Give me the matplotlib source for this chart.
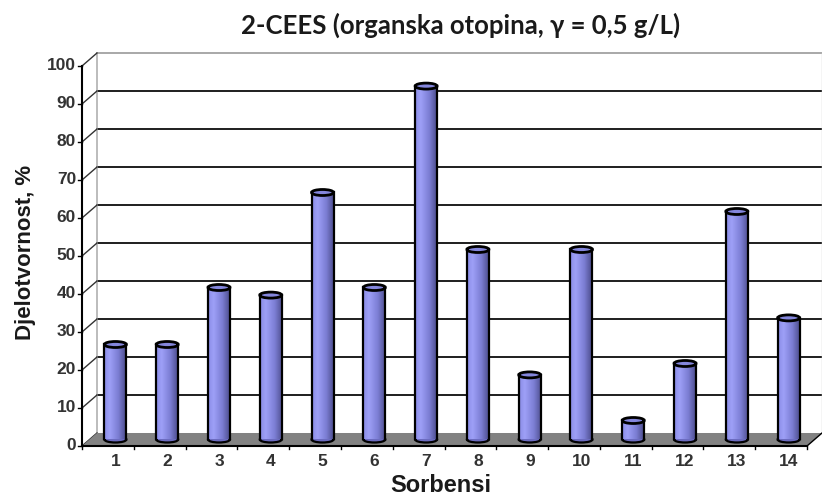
import numpy as np
import matplotlib.pyplot as plt
from matplotlib.colors import LinearSegmentedColormap
from matplotlib.patches import Ellipse, Polygon

sorbensi = [str(i) for i in range(1, 15)]
djelotvornost = [25, 25, 40, 38, 65, 40, 93, 50, 17, 50, 5, 20, 60, 32]
y_ticks = list(range(0, 101, 10))

fig = plt.figure(figsize=(8.22, 4.97), dpi=100)
ax_pos = [0.1089, 0.1157, 0.882, 0.7646]
ax = fig.add_axes(ax_pos)
ax.axis('off')

n = len(sorbensi)
xs = np.arange(1, n + 1)

# pixels per data unit, used to turn the 3-D depth into data offsets
px_x = ax_pos[2] * 822 / n
px_y = ax_pos[3] * 497 / 100
dx = 7.5 / px_x
dy = 6.5 / px_y
x0, x1 = 0.5, n + 0.5

# back wall
for v in y_ticks[1:]:
    col = '#a8a8a8' if v == 100 else '#1e1e1e'
    ax.plot([x0 + dx, x1 + dx], [v + dy, v + dy], color=col, lw=1.4, zorder=1, clip_on=False)
ax.plot([x0 + dx, x0 + dx], [dy, 100 + dy], color='#b0b0b0', lw=1.2, zorder=1, clip_on=False)
ax.plot([x1 + dx, x1 + dx], [dy, 100 + dy], color='#d0d0d0', lw=1.0, zorder=1, clip_on=False)

# side wall links between front ticks and back gridlines
for v in y_ticks:
    ax.plot([x0 - dx, x0 + dx], [v - dy, v + dy], color='#333333', lw=1.0, zorder=1, clip_on=False)

# floor
floor = Polygon([(x0 - dx, -dy), (x0 + dx, dy), (x1 + dx, dy), (x1 - dx, -dy)],
                closed=True, fc='#828282', ec='none', zorder=2, clip_on=False)
ax.add_patch(floor)

# cylinders
cyl_cmap = LinearSegmentedColormap.from_list(
    'cyl', [(0, '#8a8ce6'), (0.25, '#9ea0f7'), (0.65, '#7c7ed4'), (1, '#4e4e8e')])
grad = np.linspace(0, 1, 64).reshape(1, -1)
w = 22 / px_x
eh = 6 / px_y
for x, v in zip(xs, djelotvornost):
    ax.add_patch(Ellipse((x, 0), w, eh, fc='#6c6cc0', ec='black', lw=1.6, zorder=3, clip_on=False))
    ax.imshow(grad, cmap=cyl_cmap, extent=(x - w / 2, x + w / 2, 0, v),
              aspect='auto', zorder=4, interpolation='bilinear', clip_on=False)
    ax.plot([x - w / 2, x - w / 2], [0, v], color='black', lw=1.6, zorder=5, clip_on=False)
    ax.plot([x + w / 2, x + w / 2], [0, v], color='black', lw=1.6, zorder=5, clip_on=False)
    ax.add_patch(Ellipse((x, v), w, eh, fc='#8486dc', ec='black', lw=2.0, zorder=6, clip_on=False))

# front axes
ax.plot([x0 - dx, x0 - dx], [-dy, 100 - dy], color='black', lw=1.5, zorder=7, clip_on=False)
ax.plot([x0 - dx, x1 - dx], [-dy, -dy], color='black', lw=1.5, zorder=7, clip_on=False)
ax.plot([x1 - dx, x1 + dx], [-dy, dy], color='black', lw=1.0, zorder=7, clip_on=False)

tick_lab = dict(family=['Liberation Sans', 'DejaVu Sans'], fontsize=12.5,
                fontweight='bold', color='#333333')
for v in y_ticks:
    ax.plot([x0 - dx - 4 / px_x, x0 - dx], [v - dy, v - dy], color='black', lw=1.0, clip_on=False)
    ax.text(x0 - dx - 6 / px_x, v - dy, str(v), ha='right', va='center', **tick_lab)
for b in np.arange(x0, x1 + 0.5):
    ax.plot([b - dx, b - dx], [-dy, -dy - 3 / px_y], color='black', lw=1.0, clip_on=False)
for x, lab in zip(xs, sorbensi):
    ax.text(x, -dy - 16 / px_y, lab, ha='center', va='center', **tick_lab)

ax.set_xlim(x0, x1)
ax.set_ylim(0, 100)

fig.text(461 / 822, 1 - 25 / 497, '2-CEES (organska otopina, γ = 0,5 g/L)',
         ha='center', va='center', fontsize=18.5, fontweight='bold',
         family=['Lato', 'DejaVu Sans'], color='#1a1a1a')
fig.text(25 / 822, 1 - 252 / 497, 'Djelotvornost, %', rotation=90,
         ha='center', va='center', fontsize=16, fontweight='bold',
         family=['Liberation Sans', 'DejaVu Sans'], color='#1a1a1a')
fig.text(441 / 822, 1 - 485 / 497, 'Sorbensi', ha='center', va='center',
         fontsize=17, fontweight='bold', family=['Liberation Sans', 'DejaVu Sans'], color='#1a1a1a')

fig.savefig('out.png', dpi=100, facecolor='white')
